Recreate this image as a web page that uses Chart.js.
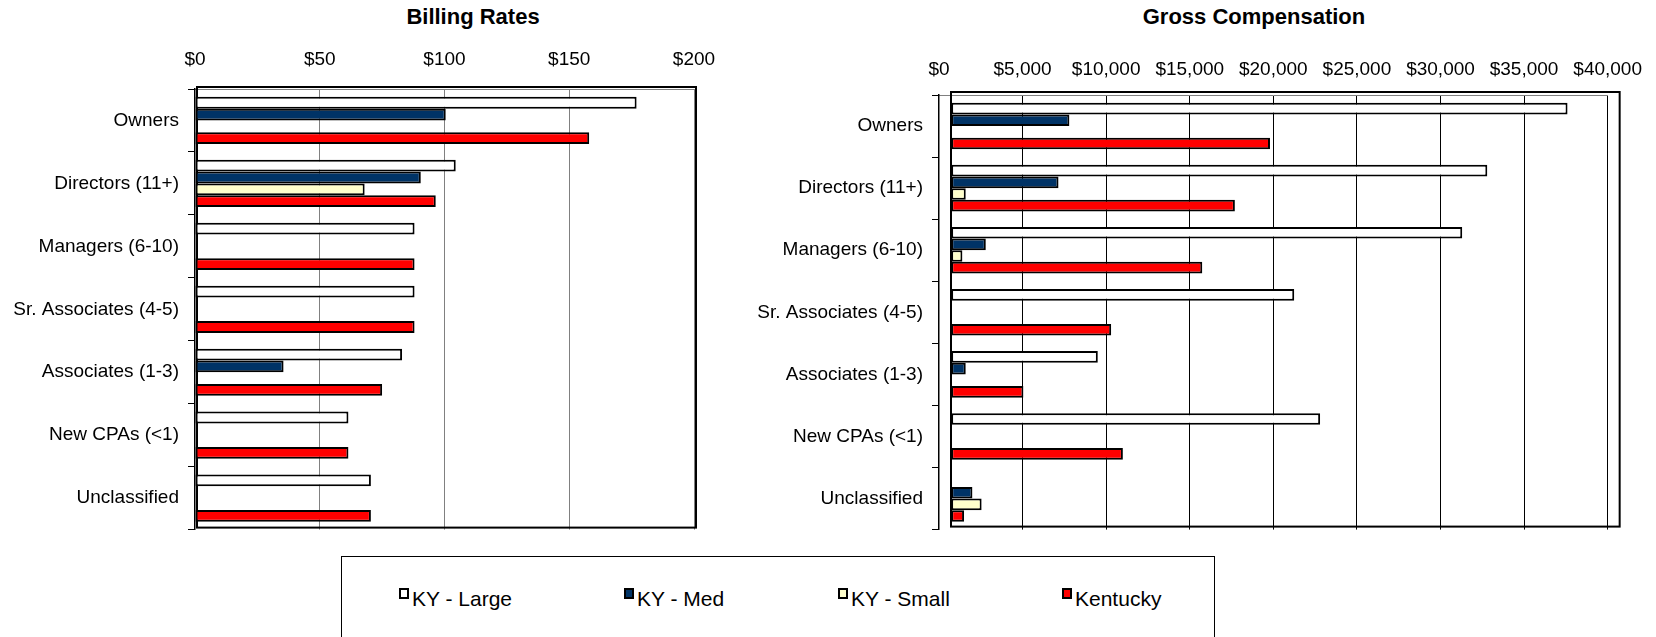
<!DOCTYPE html>
<html>
<head>
<meta charset="utf-8">
<script src="https://cdn.jsdelivr.net/npm/chart.js@4.4.1/dist/chart.umd.min.js"></script>
<style>
body{margin:0;background:#fff;width:1656px;height:637px;overflow:hidden;position:relative;font-family:'Liberation Sans',Arial,sans-serif;color:#000;}
.title{position:absolute;top:5px;font-weight:bold;font-size:22px;line-height:24px;transform:translateX(-50%);white-space:nowrap;}
canvas{position:absolute;top:0;}
#legend{position:absolute;left:341px;top:556px;width:874px;height:100px;border:1px solid #000;box-sizing:border-box;}
.item{position:absolute;top:30px;font-size:21px;line-height:24px;white-space:nowrap;}
.sw{position:absolute;top:1px;width:10px;height:11px;border:2px solid #000;box-sizing:border-box;}
</style>
</head>
<body>
<div class="title" style="left:473px">Billing Rates</div>
<div class="title" style="left:1254px">Gross Compensation</div>
<canvas id="billing" width="740" height="550" style="left:0"></canvas>
<canvas id="comp" width="916" height="550" style="left:740px"></canvas>
<div id="legend"></div>
<script>
const categories = ["Owners","Directors (11+)","Managers (6-10)","Sr. Associates (4-5)","Associates (1-3)","New CPAs (<1)","Unclassified"];
const seriesNames = ["KY - Large","KY - Med","KY - Small","Kentucky"];
const seriesColors = ["#FFFFFF","#003366","#FFFFCC","#FF0000"];

// billing rates, $ per hour
const billLarge = [177, 104.5, 88, 88, 83, 61.5, 70.5];
const billMed = [100.5, 90.5, null, null, 35.5, null, null];
const billSmall = [null, 68, null, null, null, null, null];
const billKentucky = [158, 96.5, 88, 88, 75, 61.5, 70.5];
const billTicks = [0, 50, 100, 150, 200];

// gross compensation, $
const compLarge = [37600, 32800, 31300, 21250, 9500, 22800, null];
const compMed = [7800, 7150, 2800, null, 1600, null, 2000];
const compSmall = [null, 1600, 1400, null, null, null, 2550];
const compKentucky = [19800, 17700, 15750, 10300, 5050, 11000, 1500];
const compTicks = [0, 5000, 10000, 15000, 20000, 25000, 30000, 35000, 40000];

Chart.defaults.font.family = "'Liberation Sans', Arial, sans-serif";
Chart.defaults.color = "#000";

// the excel plot box sits a few px off the axes, draw it as a frame behind the bars
const framePlugin = {
    id: "frame",
    beforeDatasetsDraw(chart, args, opts){
        const a = chart.chartArea;
        const ctx = chart.ctx;
        ctx.save();
        ctx.strokeStyle = "#000";
        ctx.lineWidth = opts.width || 2;
        ctx.strokeRect(a.left + opts.dx, a.top + opts.dy, a.right - a.left, a.bottom - a.top);
        ctx.restore();
    }
};

function makeDatasets(lists, base){
    return lists.map((vals, i) => ({
        label: seriesNames[i],
        data: vals,
        backgroundColor: seriesColors[i],
        borderColor: "#000",
        borderWidth: 2,
        borderSkipped: false,
        categoryPercentage: 0.75,
        barPercentage: 1.0,
        base: base
    }));
}

function createChart(id, lists, ticks, opt){
    const ctx = document.getElementById(id);
    return new Chart(ctx, {
        type: "bar",
        data: {labels: categories, datasets: makeDatasets(lists, opt.base)},
        plugins: [framePlugin],
        options: {
            indexAxis: "y",
            responsive: false,
            animation: false,
            layout: {padding: {top: 0, right: opt.padRight, bottom: opt.padBottom, left: 0}},
            plugins: {
                legend: {display: false},
                tooltip: {enabled: false},
                frame: {dx: opt.dx, dy: opt.dy, width: 2}
            },
            scales: {
                x: {
                    position: "top",
                    min: ticks[0],
                    max: ticks[ticks.length - 1],
                    afterBuildTicks: (scale) => { scale.ticks = ticks.map(v => ({value: v})); },
                    afterFit: (scale) => { scale.height = opt.top; },
                    ticks: {
                        padding: opt.tickPad,
                        font: {size: 19},
                        callback: (v) => "$" + Number(v).toLocaleString("en-US")
                    },
                    grid: {
                        drawTicks: false,
                        color: (c) => c.tick && c.tick.value === 0 ? "rgba(0,0,0,0)" : opt.gridColor,
                        lineWidth: 1
                    },
                    border: {display: true, color: "#808080", width: 1}
                },
                y: {
                    afterFit: (scale) => { scale.width = opt.left; },
                    ticks: {padding: 9, font: {size: 19}},
                    grid: {drawOnChartArea: false, drawTicks: true, tickLength: 7, color: "#000", offset: true},
                    border: {display: true, color: "#000", width: 1.5}
                }
            }
        }
    });
}

let charts = {};
charts["billing"] = createChart("billing", [billLarge, billMed, billSmall, billKentucky], billTicks,
    {top: 89, left: 195, padRight: 46, padBottom: 9, tickPad: 18, gridColor: "#808080", dx: 2, dy: -2, base: 0});
charts["comp"] = createChart("comp", [compLarge, compMed, compSmall, compKentucky], compTicks,
    {top: 95, left: 199, padRight: 46, padBottom: 13, tickPad: 14, gridColor: "#000", dx: 12, dy: -3, base: 730});

// legend built from the same series
const legend = document.getElementById("legend");
const legendX = [57, 282, 496, 720];
seriesNames.forEach((name, i) => {
    const item = document.createElement("div");
    item.className = "item";
    item.style.left = legendX[i] + "px";
    item.innerHTML = '<span class="sw" style="left:0;background:' + seriesColors[i] + '"></span><span style="margin-left:13px">' + name + '</span>';
    legend.appendChild(item);
});
</script>
</body>
</html>
